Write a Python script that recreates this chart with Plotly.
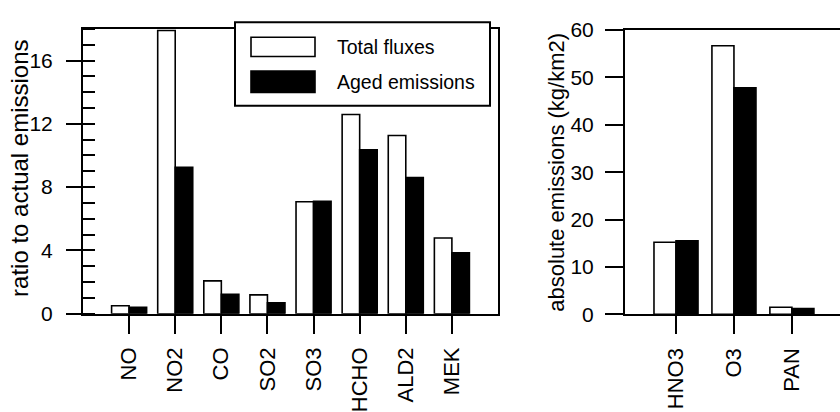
import plotly.graph_objects as go

# ---- data ----
left_cats = ["NO", "NO2", "CO", "SO2", "SO3", "HCHO", "ALD2", "MEK"]
left_total = [0.5, 17.9, 2.07, 1.19, 7.07, 12.59, 11.26, 4.78]
left_aged = [0.4, 9.25, 1.23, 0.69, 7.1, 10.35, 8.6, 3.85]

right_cats = ["HNO3", "O3", "PAN"]
right_total = [15.2, 56.7, 1.5]
right_aged = [15.5, 47.8, 1.2]

series_names = ["Total fluxes", "Aged emissions"]
left_title = "ratio to actual emissions"
right_title = "absolute emissions (kg/km2)"

W, H = 840, 412
FONT = "Liberation Sans, Arial, sans-serif"


def px(x):
    return x / W


def py(y):
    return (H - y) / H


fig = go.Figure()

bar_white = dict(color="white", line=dict(color="black", width=1.6))
bar_black = dict(color="black", line=dict(color="black", width=1.6))

fig.add_trace(go.Bar(x=left_cats, y=left_total, name=series_names[0], marker=bar_white,
                     xaxis="x", yaxis="y", showlegend=False))
fig.add_trace(go.Bar(x=left_cats, y=left_aged, name=series_names[1], marker=bar_black,
                     xaxis="x", yaxis="y", showlegend=False))
fig.add_trace(go.Bar(x=right_cats, y=right_total, name=series_names[0], marker=bar_white,
                     xaxis="x2", yaxis="y2", showlegend=False))
fig.add_trace(go.Bar(x=right_cats, y=right_aged, name=series_names[1], marker=bar_black,
                     xaxis="x2", yaxis="y2", showlegend=False))

xtickfont = dict(family=FONT, size=22, color="black")
ytickfont = dict(family=FONT, size=21, color="black")

common_x = dict(type="category", showline=True, linecolor="black", linewidth=2,
                mirror=True, ticks="outside", ticklen=18, tickwidth=2, tickcolor="black",
                tickangle=-90, tickfont=xtickfont, showgrid=False, zeroline=False,
                ticklabelstandoff=5)

fig.update_layout(
    width=W, height=H,
    margin=dict(l=0, r=0, t=0, b=0),
    paper_bgcolor="white", plot_bgcolor="white",
    barmode="group", bargap=0.24, bargroupgap=0,
    font=dict(family=FONT, color="black"),
    xaxis=dict(common_x, domain=[px(83), px(498)], range=[-1, 8], anchor="y"),
    yaxis=dict(domain=[py(322), py(18)], range=[0, 18], anchor="x",
               showline=True, linecolor="black", linewidth=2, mirror=True,
               ticks="outside", ticklen=15, tickwidth=2, tickcolor="black",
               tickmode="linear", tick0=0, dtick=4, tickfont=ytickfont,
               ticklabelstandoff=9, showgrid=False, zeroline=False,
               minor=dict(ticks="inside", dtick=1, ticklen=12, tickwidth=2,
                          tickcolor="black", showgrid=False)),
    xaxis2=dict(common_x, domain=[px(625), 1.0], range=[-0.88, 2.83], anchor="y2"),
    yaxis2=dict(domain=[py(322.7), py(19.3)], range=[0, 60], anchor="x2",
                showline=True, linecolor="black", linewidth=2, mirror=False,
                ticks="outside", ticklen=18, tickwidth=2, tickcolor="black",
                tickmode="linear", tick0=0, dtick=10, tickfont=ytickfont,
                ticklabelstandoff=7, showgrid=False, zeroline=False),
)

# legend (drawn manually to match the large swatches)
shapes = [
    dict(type="rect", xref="paper", yref="paper", x0=px(235), x1=px(490), y0=py(100), y1=py(11),
         fillcolor="white", line=dict(color="black", width=2), layer="above"),
    dict(type="rect", xref="paper", yref="paper", x0=px(251), x1=px(315), y0=py(47.5), y1=py(27),
         fillcolor="white", line=dict(color="black", width=1.6), layer="above"),
    dict(type="rect", xref="paper", yref="paper", x0=px(251), x1=px(315), y0=py(86), y1=py(63),
         fillcolor="black", line=dict(color="black", width=1.6), layer="above"),
]
fig.update_layout(shapes=shapes)

legfont = dict(family=FONT, size=19.5, color="black")
annotations = [
    dict(text=series_names[0], xref="paper", yref="paper", x=px(335), y=py(37),
         xanchor="left", yanchor="middle", showarrow=False, font=legfont),
    dict(text=series_names[1], xref="paper", yref="paper", x=px(335), y=py(75),
         xanchor="left", yanchor="middle", showarrow=False, font=legfont),
    dict(text=left_title, xref="paper", yref="paper", x=px(20), y=py(167.5),
         xanchor="center", yanchor="middle", textangle=-90, showarrow=False,
         font=dict(family=FONT, size=24, color="black")),
    dict(text=right_title, xref="paper", yref="paper", x=px(556.5), y=py(171),
         xanchor="center", yanchor="middle", textangle=-90, showarrow=False,
         font=dict(family=FONT, size=22, color="black")),
]
fig.update_layout(annotations=annotations)

fig.write_html("out.html")
